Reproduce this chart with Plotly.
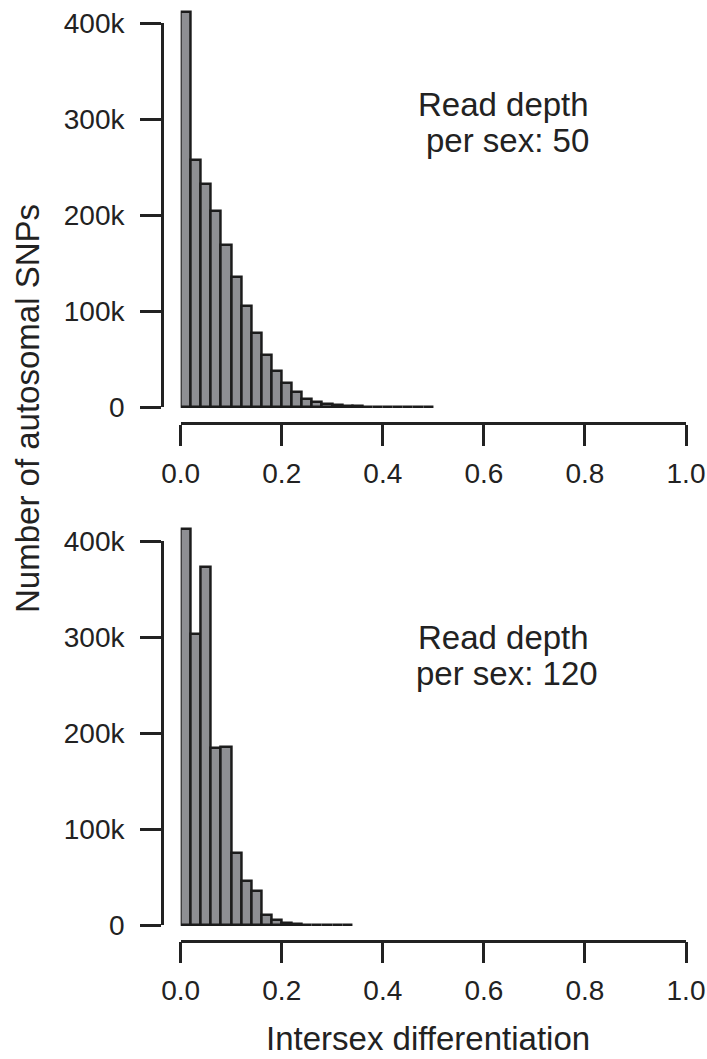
import numpy as np
import plotly.graph_objects as go

# ---- data ----
bin_width = 0.02
counts_depth50 = [411500, 258000, 233000, 204500, 169000, 136000, 105500, 77700,
                  55000, 38000, 25500, 16000, 8800, 5500, 3400, 2300, 1500, 1000,
                  600, 400, 250, 150, 100, 60, 30]
counts_depth120 = [413000, 303000, 373000, 184000, 185700, 74700, 46000, 35400,
                   10000, 5200, 2600, 1000, 500, 300, 150, 80, 40]
x_tickvals = [0, 0.2, 0.4, 0.6, 0.8, 1.0]
x_ticktext = ["0.0", "0.2", "0.4", "0.6", "0.8", "1.0"]
y_tickvals = [0, 100000, 200000, 300000, 400000]
y_ticktext = ["0", "100k", "200k", "300k", "400k"]
labels = [["Read depth", "per sex: 50"], ["Read depth", "per sex: 120"]]
y_title = "Number of autosomal SNPs"
x_title = "Intersex differentiation"

W, H = 707, 1059
FONT = "Liberation Sans, Arial, sans-serif"
INK = "#222222"
FILL = "#8e8f93"

def fx(px):
    return px / W

def fy(py):
    return 1 - py / H

def centers(counts):
    return (np.arange(len(counts)) + 0.5) * bin_width

fig = go.Figure()

fig.add_trace(go.Bar(x=centers(counts_depth50), y=counts_depth50, width=bin_width,
                     marker=dict(color=FILL, line=dict(color="#1c1c1c", width=2.5)),
                     xaxis="x", yaxis="y", showlegend=False))
fig.add_trace(go.Bar(x=centers(counts_depth120), y=counts_depth120, width=bin_width,
                     marker=dict(color=FILL, line=dict(color="#1c1c1c", width=2.5)),
                     xaxis="x2", yaxis="y2", showlegend=False))
# empty traces so the decorative y axes get drawn
fig.add_trace(go.Scatter(x=[], y=[], xaxis="x", yaxis="y3", showlegend=False))
fig.add_trace(go.Scatter(x=[], y=[], xaxis="x2", yaxis="y4", showlegend=False))

px_per_unit = 0.96 / 1000  # pixels per count
x_left, x_right = 180.7, 686.0

xcommon = dict(range=[0, 1], tickvals=x_tickvals, ticktext=x_ticktext,
               showline=True, linewidth=2.8, linecolor=INK, ticks="outside",
               ticklen=21, tickwidth=2.8, tickcolor=INK, showgrid=False,
               zeroline=False, anchor="free", automargin=False,
               tickfont=dict(family=FONT, size=28, color=INK), ticklabelstandoff=3,
               domain=[fx(x_left), fx(x_right)])
ycommon = dict(range=[0, 400000], tickvals=y_tickvals, ticktext=y_ticktext,
               showline=True, linewidth=2.8, linecolor=INK, ticks="outside",
               ticklen=21, tickwidth=2.8, tickcolor=INK, showgrid=False,
               zeroline=False, anchor="free", position=fx(162), automargin=False,
               tickfont=dict(family=FONT, size=28, color=INK), ticklabelstandoff=10)

top_zero, top_axis = 407.3, 423.0
bot_zero, bot_axis = 925.0, 940.5

fig.update_layout(
    width=W, height=H, margin=dict(l=0, r=0, t=0, b=0, pad=0, autoexpand=False),
    paper_bgcolor="white", plot_bgcolor="rgba(0,0,0,0)", bargap=0,
    xaxis=dict(xcommon, position=fy(top_axis)),
    xaxis2=dict(xcommon, position=fy(bot_axis)),
    yaxis=dict(visible=False, domain=[fy(top_axis), 1], automargin=False,
               range=[-(top_axis - top_zero) / px_per_unit, top_zero / px_per_unit],
               anchor="x"),
    yaxis2=dict(visible=False, domain=[fy(bot_axis), fy(500)], automargin=False,
                range=[-(bot_axis - bot_zero) / px_per_unit, (bot_zero - 500) / px_per_unit],
                anchor="x2"),
    yaxis3=dict(ycommon, domain=[fy(top_zero), fy(top_zero - 400000 * px_per_unit)]),
    yaxis4=dict(ycommon, domain=[fy(bot_zero), fy(bot_zero - 400000 * px_per_unit)]),
)

ann = []
for (l1, l2), yc in zip(labels, [122, 655]):
    ann.append(dict(text=l1, x=fx(503), y=fy(yc - 18), xref="paper", yref="paper",
                    xanchor="center", yanchor="middle", showarrow=False,
                    font=dict(family=FONT, size=33, color=INK)))
    ann.append(dict(text=l2, x=fx(507), y=fy(yc + 18), xref="paper", yref="paper",
                    xanchor="center", yanchor="middle", showarrow=False,
                    font=dict(family=FONT, size=33, color=INK)))
ann.append(dict(text=y_title, x=fx(27), y=fy(409), xref="paper", yref="paper",
                xanchor="center", yanchor="middle", showarrow=False, textangle=-90,
                font=dict(family=FONT, size=33, color=INK)))
ann.append(dict(text=x_title, x=fx(428), y=fy(1058), xref="paper", yref="paper",
                xanchor="center", yanchor="bottom", showarrow=False, borderpad=0,
                font=dict(family=FONT, size=33, color=INK)))
fig.update_layout(annotations=ann)

fig.write_html("out.html")
